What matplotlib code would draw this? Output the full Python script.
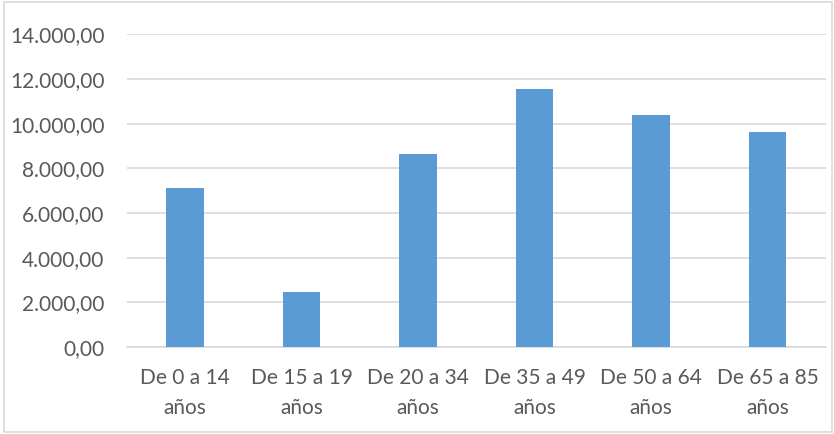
import matplotlib
matplotlib.use('Agg')
import matplotlib.pyplot as plt
from matplotlib.patches import Rectangle
from matplotlib.ticker import FuncFormatter

# data
categories = ['De 0 a 14\naños', 'De 15 a 19\naños', 'De 20 a 34\naños',
              'De 35 a 49\naños', 'De 50 a 64\naños', 'De 65 a 85\naños']
values = [7120, 2490, 8630, 11550, 10390, 9630]
y_ticks = [0, 2000, 4000, 6000, 8000, 10000, 12000, 14000]

bar_color = '#5b9bd5'
grid_color = '#d9d9d9'
text_color = '#595959'

plt.rcParams['font.family'] = ['Lato', 'DejaVu Sans']


def es_format(v, pos):
    # 14000 -> 14.000,00
    s = '{:,.2f}'.format(v)
    return s.replace(',', 'X').replace('.', ',').replace('X', '.')


fig = plt.figure(figsize=(8.34, 4.34), dpi=100)
ax = fig.add_axes([0.152, 0.2, 0.838, 0.721])

x = range(len(categories))
ax.bar(x, values, width=0.32, color=bar_color, zorder=3)

ax.set_xlim(-0.5, len(categories) - 0.5)
ax.set_ylim(0, 14000)
ax.set_yticks(y_ticks)
ax.yaxis.set_major_formatter(FuncFormatter(es_format))
ax.set_xticks(list(x))
ax.set_xticklabels(categories, linespacing=1.65)

ax.grid(axis='y', color=grid_color, linewidth=1.2, zorder=0)
for side in ['top', 'right', 'left']:
    ax.spines[side].set_visible(False)
ax.spines['bottom'].set_color(grid_color)
ax.spines['bottom'].set_linewidth(1.2)

ax.tick_params(axis='both', length=0, colors=text_color, labelsize=15)
ax.tick_params(axis='y', pad=16)
ax.tick_params(axis='x', pad=15)

# light frame around the whole chart
fig.patches.append(Rectangle((0.005, 0.004), 0.993, 0.992, transform=fig.transFigure,
                             fill=False, edgecolor=grid_color, linewidth=1.2))

fig.savefig('out.png', dpi=100)
